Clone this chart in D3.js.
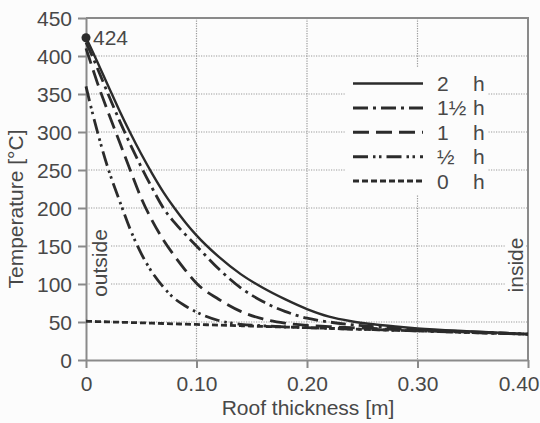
<!DOCTYPE html>
<html>
<head>
<meta charset="utf-8">
<script src="https://cdn.jsdelivr.net/npm/d3@7"></script>
<style>
  html, body { margin: 0; padding: 0; background: #fcfcfc; }
  svg { display: block; font-family: "Liberation Sans", Arial, sans-serif; }
</style>
</head>
<body>
<svg id="chart" width="540" height="423"></svg>
<script>
// Roof thickness [m] at which each temperature profile is sampled
const thickness = [0, 0.005, 0.01, 0.02, 0.03, 0.04, 0.05, 0.06, 0.07, 0.08, 0.09, 0.10,
                   0.12, 0.14, 0.16, 0.18, 0.20, 0.22, 0.24, 0.26, 0.28, 0.30, 0.35, 0.40];

// Temperature [°C] through the roof after each fire duration
const temp2h    = [424, 409, 393, 361, 329, 299, 271, 245, 221, 200, 181, 164,
                   136, 113, 95, 80, 67, 57, 51, 47, 44, 41.5, 37.5, 34];
const temp1_5h  = [418, 402, 385, 350, 316, 284, 254, 226, 200, 181, 165, 150,
                   120, 95, 77, 64, 55, 50, 46.5, 44, 42, 40, 37, 34];
const temp1h    = [410, 388, 366, 326, 288, 250, 213, 183, 158, 137, 118, 101,
                   80, 64, 54, 48.5, 45.5, 44, 42.5, 41.5, 40, 38.7, 36.5, 34];
const temp0_5h  = [360, 330, 302, 252, 211, 172, 140, 115, 96, 81, 71, 63,
                   52, 47, 45, 43.5, 42.5, 41.6, 40.8, 40, 39, 38.3, 36, 34];
const temp0h    = [51, 50.8, 50.6, 50.2, 49.7, 49.3, 48.9, 48.5, 48, 47.6, 47.2, 46.8,
                   45.9, 45.1, 44.2, 43.4, 42.5, 41.7, 40.8, 40, 39.1, 38.3, 36.1, 34];

const seriesNames  = ["2", "1½", "1", "½", "0"];
const seriesValues = [temp2h, temp1_5h, temp1h, temp0_5h, temp0h];
const dashPatterns = [null, "15,5,3,5", "16,7", "15,5,2.5,3.5,2.5,5", "6,3"];

const xTicks = [0, 0.10, 0.20, 0.30, 0.40];
const xTickLabels = ["0", "0.10", "0.20", "0.30", "0.40"];
const yTicks = [0, 50, 100, 150, 200, 250, 300, 350, 400, 450];
const peakValue = 424;

const textColor = "#484848";
const axisColor = "#8a8a8a";
const gridColor = "#9a9a9a";
const lineColor = "#2b2b2b";
const fontSize = 21;

const svg = d3.select("#chart");
const x = d3.scaleLinear().domain([0, 0.40]).range([86, 528]);
const y = d3.scaleLinear().domain([0, 450]).range([360, 18]);

// dotted grid
const grid = svg.append("g");
grid.selectAll("line.h").data(yTicks.filter(d => d > 0 && d < 450)).join("line")
  .attr("x1", x(0)).attr("x2", x(0.40))
  .attr("y1", d => y(d)).attr("y2", d => y(d))
  .attr("stroke", gridColor).attr("stroke-width", 1.2).attr("stroke-dasharray", "1.2,1.3");
grid.selectAll("line.v").data(xTicks.filter(d => d > 0 && d < 0.40)).join("line")
  .attr("x1", d => x(d)).attr("x2", d => x(d))
  .attr("y1", y(450)).attr("y2", y(0))
  .attr("stroke", gridColor).attr("stroke-width", 1.2).attr("stroke-dasharray", "1.2,1.3");

// frame top and right
svg.append("path")
  .attr("d", `M${x(0)},${y(450)}H${x(0.40)}V${y(0)}`)
  .attr("fill", "none").attr("stroke", axisColor).attr("stroke-width", 2);

// side labels with a clear backing over the grid
function sideBacking(cx, cy, w, h) {
  svg.append("rect").attr("x", cx - 2).attr("y", cy - w / 2 - 2)
    .attr("width", h + 4).attr("height", w + 4).attr("fill", "#fcfcfc");
}
sideBacking(92, 263, 70, 17);
sideBacking(507, 265, 60, 17);
svg.append("text").attr("transform", "translate(107,263) rotate(-90)")
  .attr("text-anchor", "middle").attr("fill", textColor).attr("font-size", fontSize)
  .text("outside");
svg.append("text").attr("transform", "translate(523,265) rotate(-90)")
  .attr("text-anchor", "middle").attr("fill", textColor).attr("font-size", fontSize)
  .text("inside");

// axes
const yAxis = svg.append("g").attr("transform", `translate(${x(0)},0)`)
  .call(d3.axisLeft(y).tickValues(yTicks).tickSize(8).tickPadding(6).tickSizeOuter(0));
const xAxis = svg.append("g").attr("transform", `translate(0,${y(0)})`)
  .call(d3.axisBottom(x).tickValues(xTicks).tickFormat((d, i) => xTickLabels[i])
    .tickSize(8).tickPadding(6).tickSizeOuter(0));
[yAxis, xAxis].forEach(g => {
  g.select(".domain").attr("stroke", axisColor).attr("stroke-width", 2);
  g.selectAll(".tick line").attr("stroke", axisColor).attr("stroke-width", 2);
  g.selectAll(".tick text").attr("fill", textColor)
    .attr("font-size", fontSize).attr("font-family", "Liberation Sans, Arial, sans-serif");
});
yAxis.selectAll(".tick text").attr("dy", "0.36em");
xAxis.selectAll(".tick text").attr("dy", 0).attr("y", 31);
xAxis.selectAll(".tick").filter(d => d === 0.40).select("text")
  .attr("text-anchor", "end").attr("x", 539 - x(0.40));

// axis titles
svg.append("text").attr("x", 308).attr("y", 415).attr("text-anchor", "middle")
  .attr("fill", textColor).attr("font-size", fontSize).text("Roof thickness [m]");
svg.append("text").attr("transform", "translate(23,209) rotate(-90)")
  .attr("text-anchor", "middle").attr("fill", textColor).attr("font-size", fontSize)
  .text("Temperature [°C]");

// temperature profiles
const line = d3.line().x((d, i) => x(thickness[i])).y(d => y(d)).curve(d3.curveMonotoneX);
svg.append("g").selectAll("path").data(seriesValues).join("path")
  .attr("d", d => line(d))
  .attr("fill", "none").attr("stroke", lineColor)
  .attr("stroke-width", (d, i) => i === 0 ? 2.4 : 2.8)
  .attr("stroke-dasharray", (d, i) => dashPatterns[i]);

// peak surface temperature
svg.append("circle").attr("cx", x(0)).attr("cy", y(peakValue)).attr("r", 4.5).attr("fill", lineColor);
svg.append("text").attr("x", x(0) + 7).attr("y", y(peakValue) + 7)
  .attr("fill", textColor).attr("font-size", fontSize).text(peakValue);

// legend
const legend = svg.append("g");
legend.append("rect").attr("x", 346).attr("y", 68).attr("width", 142).attr("height", 127)
  .attr("fill", "#fcfcfc");
const rows = legend.selectAll("g").data(seriesNames).join("g")
  .attr("transform", (d, i) => `translate(0,${83.5 + i * 24.4})`);
rows.append("line").attr("x1", 353).attr("x2", 423).attr("y1", 0).attr("y2", 0)
  .attr("stroke", lineColor).attr("stroke-width", (d, i) => i === 0 ? 2.6 : 3)
  .attr("stroke-dasharray", (d, i) => dashPatterns[i]);
rows.append("text").attr("x", 437).attr("y", 7.5).attr("fill", textColor)
  .attr("font-size", fontSize).text(d => d);
rows.append("text").attr("x", 473).attr("y", 7.5).attr("fill", textColor)
  .attr("font-size", fontSize).text("h");
</script>
</body>
</html>
